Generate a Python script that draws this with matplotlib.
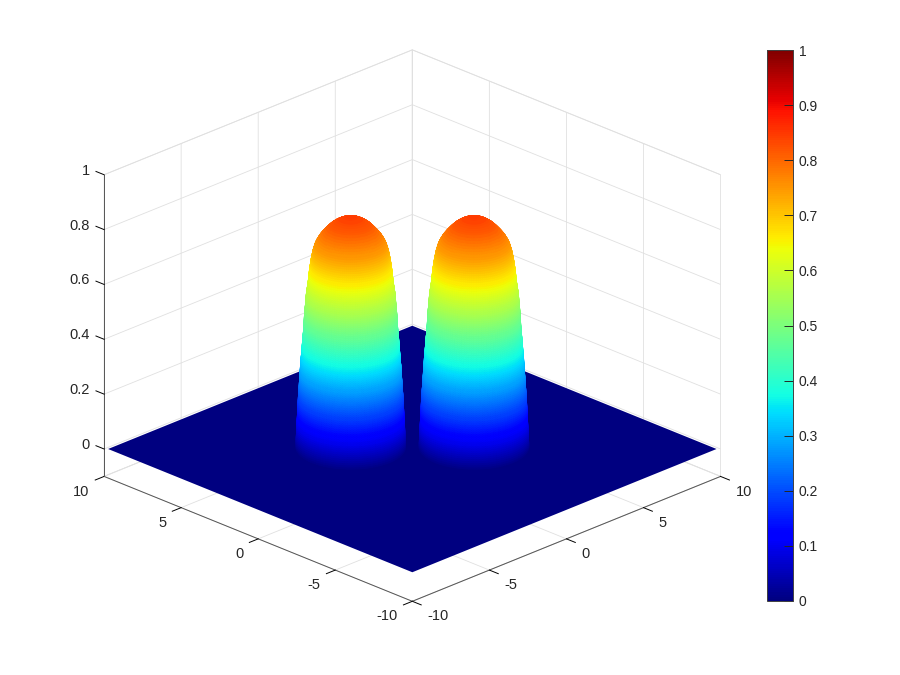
import numpy as np
import matplotlib
matplotlib.use('Agg')
import matplotlib.pyplot as plt
from matplotlib.cm import ScalarMappable
from matplotlib.colors import Normalize
from mpl_toolkits.mplot3d import proj3d

plt.rcParams['font.family'] = ['Liberation Sans', 'DejaVu Sans']

# profile of one bump (radius -> height)
bump_r = [2.53, 2.525, 2.52, 2.515, 2.51, 2.505, 2.50, 2.495, 2.49, 2.485, 2.48, 2.475, 2.47, 2.465, 2.46,
          2.455, 2.45, 2.445, 2.44, 2.435, 2.43, 2.425, 2.42, 2.415, 2.41, 2.405, 2.40, 2.392, 2.385, 2.378,
          2.37, 2.365, 2.36, 2.352, 2.345, 2.338, 2.33, 2.325, 2.32, 2.315, 2.31, 2.30, 2.29, 2.285, 2.28,
          2.27, 2.26, 2.252, 2.245, 2.238, 2.23, 2.222, 2.215, 2.208, 2.20, 2.19, 2.18, 2.172, 2.165, 2.158,
          2.15, 2.145, 2.14, 2.135, 2.13, 2.122, 2.115, 2.108, 2.10, 2.09, 2.08, 2.072, 2.065, 2.058, 2.05,
          2.04, 2.03, 2.015, 2.00, 1.985, 1.97, 1.958, 1.945, 1.935, 1.925, 1.915, 1.905, 1.892, 1.88, 1.865,
          1.85, 1.835, 1.82, 1.80, 1.78, 1.76, 1.74, 1.71, 1.68, 1.65, 1.61, 1.56, 1.50, 1.44, 1.36,
          1.28, 1.19, 1.10, 1.00, 0.93, 0.84, 0.75, 0.64, 0.54, 0.42, 0.31, 0.20, 0.10, 0.0]
bump_z = [0.0, 0.0075, 0.015, 0.0225, 0.03, 0.0375, 0.045, 0.0525, 0.06, 0.0675, 0.075, 0.0825, 0.09, 0.0975, 0.105,
          0.1125, 0.12, 0.1275, 0.135, 0.1425, 0.15, 0.1575, 0.165, 0.1725, 0.18, 0.1875, 0.195, 0.2025, 0.21, 0.2175,
          0.225, 0.2325, 0.24, 0.2475, 0.255, 0.2625, 0.27, 0.2775, 0.285, 0.2925, 0.30, 0.3075, 0.315, 0.3225, 0.33,
          0.3375, 0.345, 0.3525, 0.36, 0.3675, 0.375, 0.3825, 0.39, 0.3975, 0.405, 0.4125, 0.42, 0.4275, 0.435, 0.4425,
          0.45, 0.4575, 0.465, 0.4725, 0.48, 0.4875, 0.495, 0.5025, 0.51, 0.5175, 0.525, 0.5325, 0.54, 0.5475, 0.555,
          0.5625, 0.57, 0.5775, 0.585, 0.5925, 0.60, 0.6075, 0.615, 0.6225, 0.63, 0.6375, 0.645, 0.6525, 0.66, 0.6675,
          0.675, 0.6825, 0.69, 0.6975, 0.705, 0.7125, 0.72, 0.7275, 0.735, 0.7425, 0.75, 0.7575, 0.765, 0.7725, 0.78,
          0.7875, 0.795, 0.8025, 0.81, 0.815, 0.82, 0.825, 0.83, 0.834, 0.838, 0.841, 0.843, 0.8445, 0.845]

centers_x = [-2, 2]
centers_y = [2, -2]

plane_x = [-9.87, 9.87]
plane_y = [-9.87, 9.87]
plane_z = [[0, 0], [0, 0]]

xy_ticks = [-10, -5, 0, 5, 10]
xy_labels = ['-10', '-5', '0', '5', '10']
z_ticks = [0, 0.2, 0.4, 0.6, 0.8, 1]
z_labels = ['0', '0.2', '0.4', '0.6', '0.8', '1']
cbar_ticks = [0, 0.1, 0.2, 0.3, 0.4, 0.5, 0.6, 0.7, 0.8, 0.9, 1]
cbar_labels = ['0', '0.1', '0.2', '0.3', '0.4', '0.5', '0.6', '0.7', '0.8', '0.9', '1']

text_col = '#262626'
grid_col = '#e0e0e0'

fig = plt.figure(figsize=(9, 6.75), dpi=100)
ax = fig.add_axes([0.4582 - 0.45 - 11 / 900, 0.517 - 0.6 - 10.5 / 675, 0.9, 1.2], projection='3d',
                  proj_type='ortho', computed_zorder=False)
ax.view_init(elev=23.9, azim=-135)
ax.set_box_aspect((1, 1, 0.757), zoom=0.838)

ax.set_xlim(-10, 10)
ax.set_ylim(-10, 10)
ax.set_zlim(-0.1, 1)

# the plane, then each bump as a surface of revolution
px, py = np.meshgrid(plane_x, plane_y)
ax.plot_surface(px, py, np.array(plane_z), color=plt.cm.jet(0.0), shade=False, linewidth=0, zorder=1)

theta = np.radians(np.arange(0, 361, 3))
r = np.array(bump_r)
z = np.array(bump_z)
band_cols = plt.cm.jet((z[:-1] + z[1:]) / 2)
cols = np.repeat(band_cols[:, np.newaxis, :], len(theta) - 1, axis=1)
for i in range(2):
    X = centers_x[i] + np.outer(r, np.cos(theta))
    Y = centers_y[i] + np.outer(r, np.sin(theta))
    Z = np.outer(z, np.ones(len(theta)))
    ax.plot_surface(X, Y, Z, facecolors=cols, shade=False, rstride=1, cstride=1,
                    linewidth=0.5, zorder=2 + i)

ax.set_xticks(xy_ticks, [''] * len(xy_ticks))
ax.set_yticks(xy_ticks, [''] * len(xy_ticks))
ax.set_zticks(z_ticks, [''] * len(z_ticks))

for axis in [ax.xaxis, ax.yaxis, ax.zaxis]:
    axis.set_pane_color((1, 1, 1, 1))
    axis.pane.set_edgecolor(grid_col)
    axis.pane.set_linewidth(0.6)
    axis.line.set_color('#555555')
    axis.line.set_linewidth(0.7)
    axis._axinfo['grid']['color'] = grid_col
    axis._axinfo['grid']['linewidth'] = 0.6
    axis._axinfo['tick']['inward_factor'] = 0.36
    axis._axinfo['tick']['outward_factor'] = 0.0
    axis._axinfo['tick']['linewidth'] = {True: 0.7, False: 0.7}
    axis._axinfo['tick']['color'] = '#555555'

# z ticks point along y in the reference, not along x
ax.zaxis.set_ticks_position('upper')
ax.zaxis._get_tickdir = lambda pos: 1
ax.zaxis._axinfo['tick']['inward_factor'] = 0.0
ax.zaxis._axinfo['tick']['outward_factor'] = 0.33


def tick_text(x, y, z, label, ha):
    # tick labels placed by hand, the 3d axis can't offset them far enough sideways
    x2, y2, _ = proj3d.proj_transform(x, y, z, ax.get_proj())
    ax.text2D(x2, y2, label, transform=ax.transData, ha=ha, va='center', fontsize=10.5, color=text_col)


for i in range(len(xy_ticks)):
    tick_text(xy_ticks[i], -10.97, -0.133, xy_labels[i], 'left')
    tick_text(-10.97, xy_ticks[i], -0.133, xy_labels[i], 'right')
for i in range(len(z_ticks)):
    tick_text(-10, 10.94, z_ticks[i] - 0.0065, z_labels[i], 'right')

# colorbar
cax = fig.add_axes([767 / 900, 1 - 601 / 675, 26 / 900, 551 / 675])
cb = fig.colorbar(ScalarMappable(Normalize(0, 1), cmap='jet'), cax=cax)
cb.set_ticks(cbar_ticks, labels=cbar_labels)
cax.tick_params(direction='in', length=6.5, width=0.7, color=text_col, labelcolor=text_col, labelsize=10, pad=4)
cb.outline.set_edgecolor('#404040')
cb.outline.set_linewidth(0.7)

fig.savefig('out.png', dpi=100)
